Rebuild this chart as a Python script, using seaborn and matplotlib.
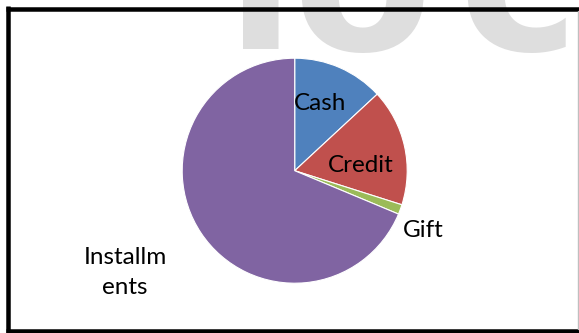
import matplotlib
matplotlib.use("Agg")
import matplotlib.pyplot as plt
import seaborn as sns

# ---- data ----
categories = ["Cash", "Credit", "Gift", "Installments"]
values = [13.1, 16.8, 1.4, 68.7]
label_texts = ["Cash", "Credit", "Gift", "Installm\nents"]
colors = ["#4F81BD", "#C0504D", "#9BBB59", "#8064A2"]
watermark_letters = ["i", "o", "c"]

sns.set_theme(style="white")
plt.rcParams['font.family'] = ['Lato', 'DejaVu Sans']

W, H = 579, 333
fig = plt.figure(figsize=(W / 100, H / 100), dpi=100)
fig.patch.set_facecolor("white")

# background axes in pixel coordinates (for the watermark), clipped at x=577
bg = fig.add_axes([0, 0, 577 / W, 1])
bg.set_xlim(0, 577)
bg.set_ylim(H, 0)
bg.axis("off")
for ch, xc in zip(watermark_letters, [260.5, 362, 518]):
    bg.text(xc, 50, ch, fontsize=146, fontweight="bold", family="DejaVu Sans",
            color="#DEDEDE", ha="center", va="baseline", clip_on=True)

# pie axes
cx, cy, r = 294.7, 170.7, 112.5
ax = fig.add_axes([(cx - r) / W, (H - cy - r) / H, 2 * r / W, 2 * r / H])
pal = sns.color_palette(colors)
ax.pie(values, colors=pal, startangle=90, counterclock=False, radius=1,
       wedgeprops=dict(edgecolor="white", linewidth=0.8))
ax.set_xlim(-1, 1)
ax.set_ylim(-1, 1)
ax.set_aspect("equal")
ax.axis("off")

label_pos = [(0.229, 0.60), (0.585, 0.05), (1.140, -0.532), (-1.508, -0.905)]
for t, (x, y) in zip(label_texts, label_pos):
    ax.text(x, y, t, fontsize=17.5, ha="center", va="center", color="black",
            multialignment="center", linespacing=1.5, clip_on=False)

# overlay frame
ov = fig.add_axes([0, 0, 1, 1], zorder=10)
ov.set_xlim(0, W)
ov.set_ylim(H, 0)
ov.axis("off")
ov.patch.set_alpha(0)
lw = 4.5 * 0.72
ov.plot([6, W + 5], [8.5, 8.5], color="black", lw=lw, solid_capstyle="butt", clip_on=False)
ov.plot([8, 8], [6, H + 5], color="black", lw=lw, solid_capstyle="butt", clip_on=False)
ov.plot([6, W + 5], [331, 331], color="black", lw=lw, solid_capstyle="butt", clip_on=False)
ov.plot([577.5, 577.5], [11, 329], color="#BFBFBF", lw=1.0, clip_on=False)

fig.savefig("out.png", dpi=100, facecolor="white")
